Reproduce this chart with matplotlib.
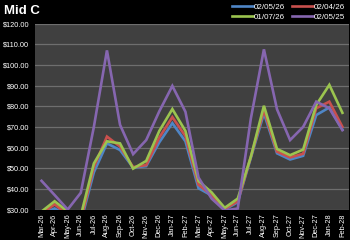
import matplotlib
matplotlib.use("Agg")
import matplotlib.pyplot as plt
from matplotlib.ticker import FuncFormatter

months = ["Mar-26", "Apr-26", "May-26", "Jun-26", "Jul-26", "Aug-26", "Sep-26", "Oct-26",
          "Nov-26", "Dec-26", "Jan-27", "Feb-27", "Mar-27", "Apr-27", "May-27", "Jun-27",
          "Jul-27", "Aug-27", "Sep-27", "Oct-27", "Nov-27", "Dec-27", "Jan-28", "Feb-28"]

s_020526 = [28, 30.5, 27, 24, 48, 62, 58.8, 50.3, 51, 62.5, 71.8, 63, 40.3, 36.8, 30, 33.5,
            55, 76.5, 57.2, 54.2, 56, 75.7, 79.4, 68.7]
s_020426 = [28, 32.5, 27.5, 25, 50.5, 65.3, 60.5, 50.5, 51.5, 64.8, 74.7, 65.5, 42, 37, 30.3, 34,
            55.5, 78, 58, 55.2, 57, 79, 82.2, 70]
s_010726 = [29, 34, 29, 27, 52.3, 63, 62, 49.8, 53.5, 68, 78.6, 68, 43.8, 38.3, 30.8, 35.3,
            55.5, 80.2, 59.3, 56.3, 59, 80.6, 90.3, 76.8]
s_020525 = [43.9, 37, 30, 38.1, 70, 107, 71, 56.8, 63.6, 77.5, 89.8, 77.3, 45.5, 35.3, 29.5, 30.5,
            74, 107.5, 78.5, 63.6, 70, 82.2, 79, 68.4]

series_names = ["02/05/26", "02/04/26", "01/07/26", "02/05/25"]
series_vals = [s_020526, s_020426, s_010726, s_020525]
colors = ["#4F86C6", "#C9504D", "#9BC44F", "#8666B0"]

yticks = [30, 40, 50, 60, 70, 80, 90, 100, 110, 120]

plt.rcParams['font.family'] = ['Liberation Sans', 'DejaVu Sans']

fig = plt.figure(figsize=(3.5, 2.4), dpi=100)
fig.patch.set_facecolor("black")
ax = fig.add_axes([0.1, 0.127, 0.897, 0.775])
ax.set_facecolor("#404040")

x = list(range(len(months)))
lines = []
for name, vals, c in zip(series_names, series_vals, colors):
    ln, = ax.plot(x, vals, color=c, lw=1.9, label=name, solid_joinstyle="miter")
    lines.append(ln)

ax.set_xlim(-0.5, len(months) - 0.5)
ax.set_ylim(30, 120)
ax.set_yticks(yticks)
ax.yaxis.set_major_formatter(FuncFormatter(lambda v, p: f"${v:.2f}"))
ax.set_xticks(x)
ax.set_xticklabels(months, rotation=90)
ax.tick_params(axis="both", length=0, colors="white", labelsize=5.3)
ax.tick_params(axis="y", pad=4)
ax.tick_params(axis="x", pad=3)
ax.grid(axis="y", color="#6E6E6E", lw=0.9)
ax.set_axisbelow(True)
for sp in ax.spines.values():
    sp.set_visible(False)

fig.text(0.01, 0.955, "Mid C", color="white", fontsize=9.5, fontweight="bold",
         va="center", ha="left")

order = [0, 2, 1, 3]
leg = fig.legend([lines[i] for i in order], [series_names[i] for i in order],
                 loc="center right", bbox_to_anchor=(0.995, 0.95), ncol=2, frameon=False,
                 fontsize=5.8, labelcolor="white", handlelength=2.6, handletextpad=0.1,
                 columnspacing=0.9, labelspacing=0.35, borderaxespad=0)

fig.savefig("out.png", dpi=100, facecolor="black")
